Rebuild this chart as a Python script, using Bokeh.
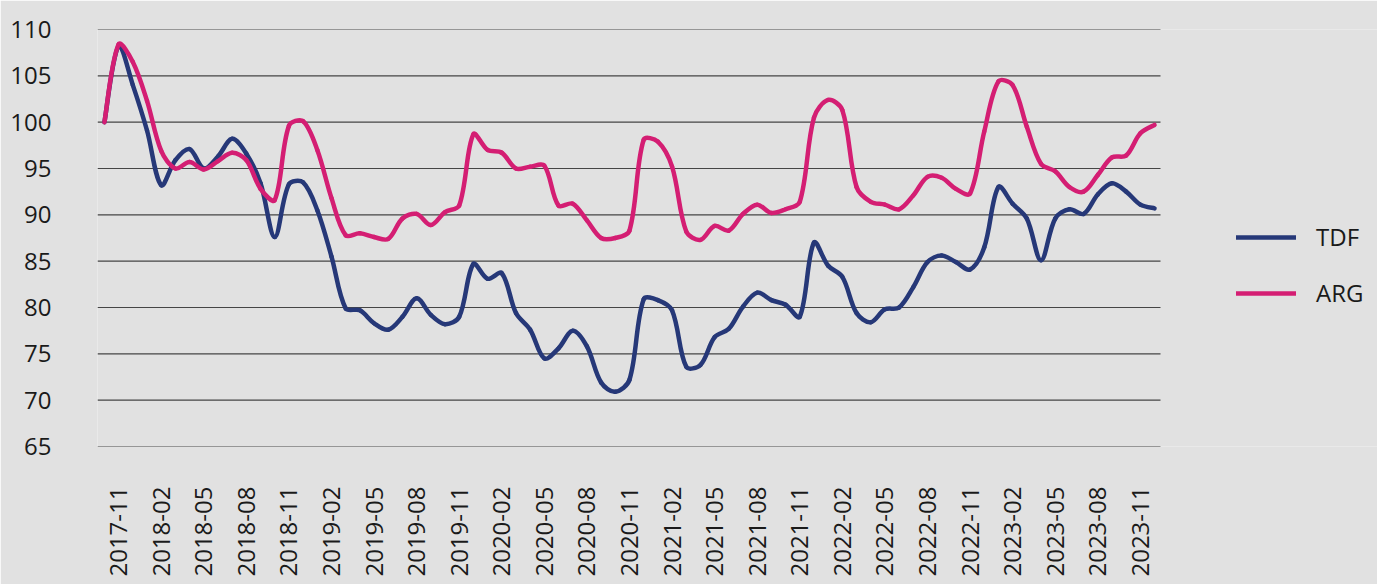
import math
import pandas as pd
from bokeh.plotting import figure
from bokeh.models import Range1d, FixedTicker, Legend, LegendItem, ColumnDataSource
from bokeh.embed import file_html
from bokeh.resources import INLINE

months = [p.strftime("%Y-%m") for p in pd.period_range("2017-10", "2023-12", freq="M")]
tick_idx = list(range(1, len(months), 3))
tick_labels = [months[i] for i in tick_idx]
y_ticks = list(range(65, 111, 5))

tdf = [100.0, 108.2, 104.0, 99.1, 93.2, 95.9, 97.1, 95.0, 96.3, 98.2,
       96.6, 93.4, 87.6, 93.3, 93.5, 90.5, 85.5, 79.9, 79.7, 78.3,
       77.6, 79.0, 81.0, 79.2, 78.2, 79.0, 84.7, 83.1, 83.7, 79.4,
       77.6, 74.5, 75.6, 77.5, 75.8, 71.9, 70.9, 72.2, 80.9, 80.8,
       79.7, 73.6, 73.8, 76.8, 77.7, 80.1, 81.6, 80.8, 80.3, 79.0,
       87.0, 84.5, 83.3, 79.4, 78.4, 79.8, 80.0, 82.2, 84.9, 85.6,
       84.9, 84.1, 86.5, 93.0, 91.2, 89.6, 85.1, 89.6, 90.6, 90.1,
       92.2, 93.4, 92.5, 91.1, 90.7]
arg = [100.0, 108.4, 106.5, 102.3, 96.9, 95.0, 95.7, 94.9, 95.8, 96.7,
       95.9, 92.8, 91.6, 99.6, 100.1, 97.0, 91.8, 87.8, 88.0, 87.6,
       87.4, 89.6, 90.1, 88.9, 90.3, 91.0, 98.7, 97.0, 96.7, 95.0,
       95.2, 95.3, 91.0, 91.2, 89.4, 87.5, 87.5, 88.3, 98.1, 97.9,
       95.2, 88.2, 87.3, 88.8, 88.3, 90.1, 91.1, 90.2, 90.6, 91.4,
       100.5, 102.4, 101.3, 93.0, 91.4, 91.1, 90.6, 92.1, 94.1, 94.0,
       92.8, 92.3, 99.0, 104.4, 104.0, 99.5, 95.5, 94.7, 93.0, 92.5,
       94.3, 96.2, 96.4, 98.8, 99.7]
series = [("TDF", tdf, "#263878"), ("ARG", arg, "#d41e73")]

FONT = "Open Sans"
BG = "#e1e1e1"
W, H = 1377, 584
LEFT, TOP, BOTTOM = 97, 29, 138
X_LO, X_HI = -0.49, 74.42          # extent of the drawn chart area (data units)
GRID_RIGHT_PX = 1160
px_per_x = (GRID_RIGHT_PX - LEFT) / (X_HI - X_LO)
x_end = X_LO + (W - LEFT) / px_per_x
px_per_y = (H - BOTTOM - TOP) / (110 - 65)

p = figure(width=W, height=H, output_backend="svg", toolbar_location=None,
           x_range=Range1d(X_LO, x_end), y_range=Range1d(65, 110),
           min_border_left=LEFT, min_border_right=0, min_border_top=TOP, min_border_bottom=BOTTOM,
           background_fill_color=BG, border_fill_color=BG, outline_line_color=None)

p.xgrid.grid_line_color = None
p.ygrid.grid_line_color = None
p.segment(x0=[X_LO] * len(y_ticks), x1=[X_HI] * len(y_ticks), y0=y_ticks, y1=y_ticks,
          line_color="#454545", line_width=1.2)

p.yaxis.ticker = FixedTicker(ticks=y_ticks)
p.xaxis.ticker = FixedTicker(ticks=tick_idx)
p.xaxis.major_label_overrides = {i: lab for i, lab in zip(tick_idx, tick_labels)}
p.xaxis.major_label_orientation = math.pi / 2
for ax in (p.xaxis, p.yaxis):
    ax.axis_line_color = None
    ax.major_tick_line_color = None
    ax.minor_tick_line_color = None
    ax.major_label_text_font = FONT
    ax.major_label_text_font_size = "24px"
    ax.major_label_text_color = "#1a1a1a"
p.yaxis.major_label_standoff = 40
p.xaxis.major_label_standoff = 34


def smooth_segments(ys, t=1 / 3):
    """Excel-like smoothed line: chord-weighted cubic Bezier through the data points."""
    n = len(ys)
    P = [(i * px_per_x, y * px_per_y) for i, y in enumerate(ys)]
    before, after = [None] * n, [None] * n
    for i in range(n):
        a = P[i - 1] if i > 0 else P[i]
        b = P[i + 1] if i < n - 1 else P[i]
        T = (b[0] - a[0], b[1] - a[1])
        d0 = math.dist(a, P[i])
        d1 = math.dist(P[i], b)
        s = d0 + d1 if d0 + d1 > 0 else 1
        f0 = t * d0 / s if i < n - 1 else t / 2
        f1 = t * d1 / s if i > 0 else t / 2
        before[i] = (P[i][0] - T[0] * f0, P[i][1] - T[1] * f0)
        after[i] = (P[i][0] + T[0] * f1, P[i][1] + T[1] * f1)
    d = dict(x0=[], y0=[], x1=[], y1=[], cx0=[], cy0=[], cx1=[], cy1=[])
    for i in range(n - 1):
        d["x0"].append(i); d["y0"].append(ys[i])
        d["x1"].append(i + 1); d["y1"].append(ys[i + 1])
        d["cx0"].append(after[i][0] / px_per_x); d["cy0"].append(after[i][1] / px_per_y)
        d["cx1"].append(before[i + 1][0] / px_per_x); d["cy1"].append(before[i + 1][1] / px_per_y)
    return ColumnDataSource(d)


items = []
for name, vals, col in series:
    r = p.bezier(x0="x0", y0="y0", x1="x1", y1="y1", cx0="cx0", cy0="cy0",
                 cx1="cx1", cy1="cy1", source=smooth_segments(vals), line_color=col,
                 line_width=4.5, line_cap="round")
    items.append(LegendItem(label=name, renderers=[r]))

legend = Legend(items=items, location=(1139, 137), glyph_width=60, glyph_height=30,
                label_height=30, spacing=23, label_standoff=20, padding=10, margin=0,
                border_line_color=None, background_fill_alpha=0,
                label_text_font=FONT, label_text_font_size="24px", label_text_color="#1a1a1a")
p.add_layout(legend)

open("out.html", "w").write(file_html(p, INLINE))
